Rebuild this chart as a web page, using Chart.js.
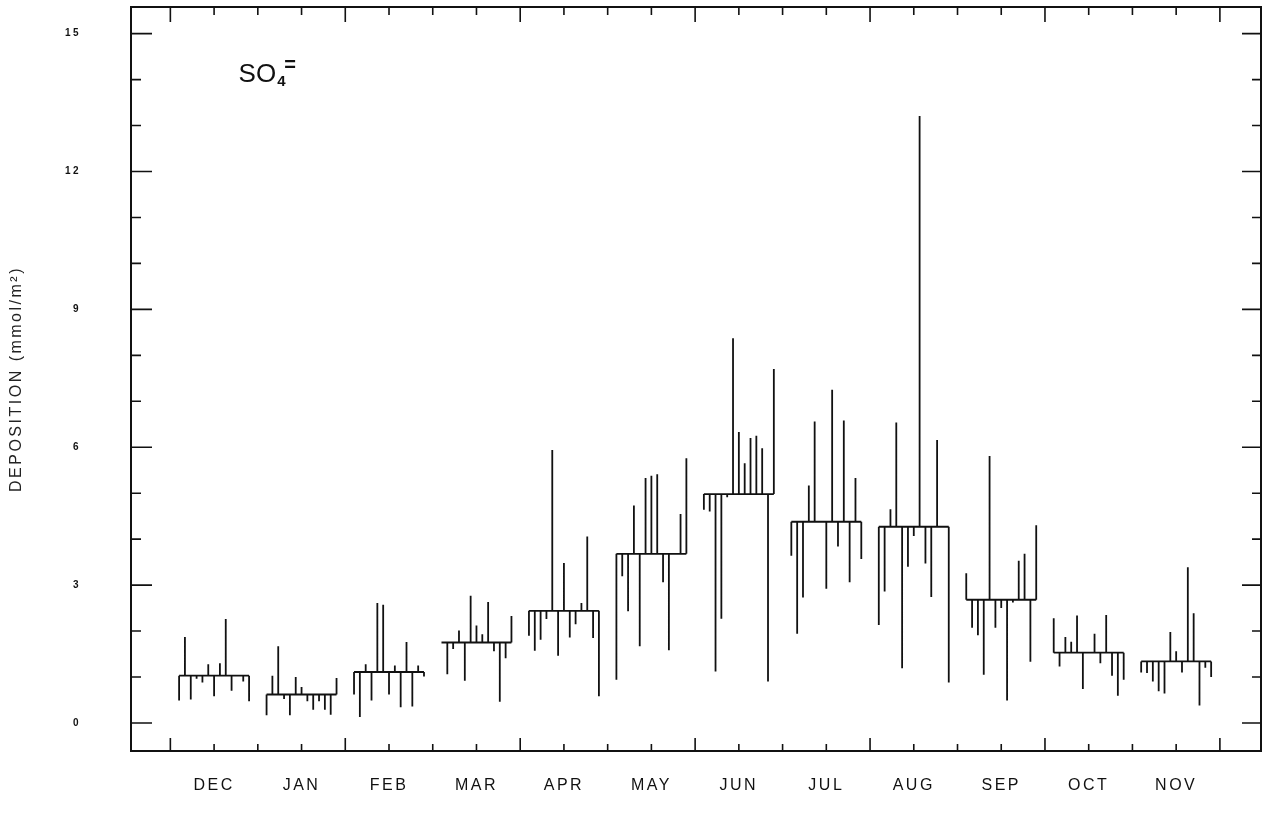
<!DOCTYPE html>
<html>
<head>
<meta charset="utf-8">
<script src="https://cdn.jsdelivr.net/npm/chart.js@4.4.1/dist/chart.umd.min.js"></script>
<style>
  html, body { margin: 0; padding: 0; background: #fff; }
  #wrap { width: 1262px; height: 826px; }
</style>
</head>
<body>
<div id="wrap"><canvas id="chart" width="1262" height="826"></canvas></div>
<script>
// month labels, monthly means and the single deposition values per month (mmol/m2)
var months = ['DEC', 'JAN', 'FEB', 'MAR', 'APR', 'MAY', 'JUN', 'JUL', 'AUG', 'SEP', 'OCT', 'NOV'];
var monthlyMean = [1.03, 0.62, 1.11, 1.75, 2.44, 3.68, 4.98, 4.38, 4.27, 2.68, 1.53, 1.34];

var dec = [0.49, 1.87, 0.51, 0.96, 0.88, 1.28, 0.58, 1.30, 2.26, 0.70, null, 0.90, 0.47];
var jan = [0.17, 1.03, 1.67, 0.52, 0.17, 1.00, 0.78, 0.47, 0.29, 0.47, 0.29, 0.18, 0.98];
var feb = [0.62, 0.13, 1.28, 0.49, 2.61, 2.57, 0.62, 1.25, 0.34, 1.76, 0.36, 1.25, 1.01];
var mar = [null, 1.06, 1.61, 2.01, 0.92, 2.77, 2.12, 1.93, 2.63, 1.56, 0.46, 1.41, 2.33];
var apr = [1.90, 1.57, 1.81, 2.26, 5.94, 1.46, 3.48, 1.86, 2.15, 2.61, 4.06, 1.85, 0.58];
var may = [0.94, 3.19, 2.43, 4.73, 1.67, 5.33, 5.38, 5.41, 3.06, 1.58, null, 4.55, 5.76];
var jun = [4.64, 4.60, 1.12, 2.27, 4.91, 8.37, 6.33, 5.65, 6.20, 6.25, 5.98, 0.90, 7.70];
var jul = [3.64, 1.94, 2.73, 5.17, 6.56, null, 2.92, 7.25, 3.84, 6.58, 3.06, 5.33, 3.57];
var aug = [2.13, 2.86, 4.65, 6.54, 1.19, 3.40, 4.07, 13.21, 3.47, 2.74, 6.16, null, 0.88];
var sep = [3.26, 2.07, 1.91, 1.05, 5.81, 2.07, 2.50, 0.49, 2.62, 3.53, 3.68, 1.33, 4.30];
var oct = [2.28, 1.23, 1.87, 1.77, 2.34, 0.74, null, 1.94, 1.30, 2.35, 1.03, 0.59, 0.94];
var nov = [1.10, 1.09, 0.90, 0.69, 0.64, 1.98, 1.56, 1.10, 3.39, 2.39, 0.38, 1.20, 1.00];

var yTicks = [0, 3, 6, 9, 12, 15];

var samples = [dec, jan, feb, mar, apr, may, jun, jul, aug, sep, oct, nov];

// where the samples sit inside a month (month units)
var sampleStart = 0.1;
var sampleStep = 0.8 / 12;

var meanPts = [];
var stickPts = [];
samples.forEach(function(vals, m) {
    var mean = monthlyMean[m];
    var x0 = m + sampleStart;
    var x1 = m + sampleStart + (vals.length - 1) * sampleStep;
    meanPts.push({x: x0, y: mean}, {x: x1, y: mean}, {x: x1 + 0.01, y: null});
    vals.forEach(function(v, k) {
        if (v === null) return;
        var xv = x0 + k * sampleStep;
        stickPts.push({x: xv, y: mean}, {x: xv, y: v}, {x: xv, y: null});
    });
});

var ink = '#111';

// box, inward tick marks on all four sides, and the ion label
var frame = {
    id: 'frame',
    beforeDraw: function(chart) {
        chart.ctx.letterSpacing = '2.5px';
    },
    afterDraw: function(chart) {
        var ctx = chart.ctx, a = chart.chartArea;
        var x = chart.scales.x, y = chart.scales.y;
        ctx.save();
        ctx.strokeStyle = ink;
        ctx.lineWidth = 2;
        ctx.strokeRect(a.left, a.top, a.right - a.left, a.bottom - a.top);

        ctx.lineWidth = 1.6;
        ctx.beginPath();
        for (var v = 0; v <= 15; v++) {
            var py = y.getPixelForValue(v);
            var major = v % 3 === 0;
            ctx.moveTo(a.left, py);
            ctx.lineTo(a.left + (major ? 21 : 10), py);
            ctx.moveTo(a.right, py);
            ctx.lineTo(a.right - (major ? 19 : 9), py);
        }
        for (var h = 0; h <= months.length * 2; h++) {
            var px = x.getPixelForValue(h / 2);
            var big = h % 4 === 0;
            ctx.moveTo(px, a.bottom);
            ctx.lineTo(px, a.bottom - (big ? 13 : 7));
            ctx.moveTo(px, a.top);
            ctx.lineTo(px, a.top + (big ? 15 : 8));
        }
        ctx.stroke();

        // SO4= label
        ctx.letterSpacing = '0px';
        ctx.fillStyle = ink;
        ctx.textBaseline = 'alphabetic';
        ctx.textAlign = 'left';
        var lx = x.getPixelForValue(0.78);
        var ly = y.getPixelForValue(13.95);
        ctx.font = '26px "Liberation Sans", Arial, sans-serif';
        ctx.fillText('SO', lx, ly);
        var w = ctx.measureText('SO').width;
        ctx.font = 'bold 15px "Liberation Sans", Arial, sans-serif';
        ctx.fillText('4', lx + w + 1, ly + 4);
        ctx.font = 'bold 20px "Liberation Sans", Arial, sans-serif';
        ctx.fillText('=', lx + w + 8, ly - 11);
        ctx.restore();
    }
};

var chart = new Chart(document.getElementById('chart'), {
    type: 'line',
    data: {
        datasets: [{
            label: 'monthly mean',
            data: meanPts,
            borderColor: ink,
            borderWidth: 1.9,
            pointRadius: 0,
            spanGaps: false,
            tension: 0
        }, {
            label: 'single values',
            data: stickPts,
            borderColor: ink,
            borderWidth: 1.8,
            pointRadius: 0,
            spanGaps: false,
            tension: 0
        }]
    },
    options: {
        responsive: false,
        animation: false,
        layout: {padding: {top: 7, right: 1, bottom: 0, left: 0}},
        plugins: {
            legend: {display: false},
            tooltip: {enabled: false}
        },
        scales: {
            x: {
                type: 'linear',
                min: -0.45,
                max: 12.47,
                grid: {display: false, drawTicks: false},
                border: {display: false},
                afterBuildTicks: function(scale) {
                    scale.ticks = months.map(function(_, i) { return {value: i + 0.5}; });
                },
                afterFit: function(scale) {
                    scale.height = 75;
                    scale.paddingLeft = 0;
                    scale.paddingRight = 0;
                },
                ticks: {
                    autoSkip: false,
                    maxRotation: 0,
                    padding: 25,
                    color: ink,
                    font: {family: '"Liberation Sans", Arial, sans-serif', size: 16},
                    callback: function(value) { return months[Math.floor(value)]; }
                }
            },
            y: {
                type: 'linear',
                min: -0.61,
                max: 15.58,
                grid: {display: false, drawTicks: false},
                border: {display: false},
                afterBuildTicks: function(scale) {
                    scale.ticks = yTicks.map(function(t) { return {value: t}; });
                },
                afterFit: function(scale) {
                    scale.width = 131;
                    scale.paddingTop = 0;
                    scale.paddingBottom = 0;
                },
                ticks: {
                    padding: 50,
                    color: ink,
                    font: {family: '"Liberation Sans", Arial, sans-serif', size: 10, weight: 'bold'}
                },
                title: {
                    display: true,
                    text: 'DEPOSITION (mmol/m²)',
                    color: '#222',
                    padding: {top: 7, bottom: 0},
                    font: {family: '"Liberation Sans", Arial, sans-serif', size: 16}
                }
            }
        }
    },
    plugins: [frame]
});
</script>
</body>
</html>
